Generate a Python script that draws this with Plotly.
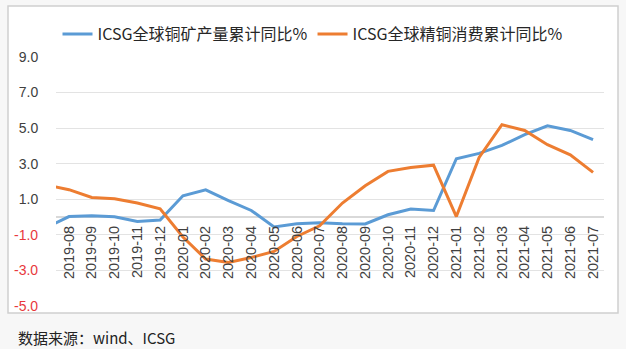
import plotly.graph_objects as go

# Monthly categories; 2019-07 sits just left of the visible window
months = ["2019-07", "2019-08", "2019-09", "2019-10", "2019-11", "2019-12",
          "2020-01", "2020-02", "2020-03", "2020-04", "2020-05", "2020-06",
          "2020-07", "2020-08", "2020-09", "2020-10", "2020-11", "2020-12",
          "2021-01", "2021-02", "2021-03", "2021-04", "2021-05", "2021-06",
          "2021-07"]

# ICSG global copper mine output, cumulative YoY (%)
mine_output = [-0.6, 0.03, 0.07, 0.02, -0.25, -0.17,
               1.20, 1.53, 0.93, 0.37, -0.56, -0.38,
               -0.32, -0.38, -0.39, 0.13, 0.45, 0.37,
               3.28, 3.58, 4.03, 4.63, 5.13, 4.87,
               4.35]

# ICSG global refined copper consumption, cumulative YoY (%)
refined_use = [1.8, 1.54, 1.10, 1.03, 0.79, 0.47,
               -1.12, -2.36, -2.55, -2.27, -1.93, -1.09,
               -0.49, 0.79, 1.76, 2.57, 2.79, 2.92,
               0.03, 3.35, 5.19, 4.87, 4.07, 3.50,
               2.51]

y_ticks = [9, 7, 5, 3, 1, -1, -3, -5]
y_min, y_max = -5, 9

BLUE = "#5B9BD5"
ORANGE = "#ED7D31"
LABEL = "#404040"
NEG = "#E8383D"

fig = go.Figure()
fig.add_trace(go.Scatter(
    x=list(range(len(months))), y=mine_output, mode="lines",
    name="ICSG全球铜矿产量累计同比%",
    line=dict(color=BLUE, width=3),
))
fig.add_trace(go.Scatter(
    x=list(range(len(months))), y=refined_use, mode="lines",
    name="ICSG全球精铜消费累计同比%",
    line=dict(color=ORANGE, width=3),
))

# Margins in pixels; used to place the frame and footnote in paper units
W, H = 626, 349
L, R, T, B = 56, 22, 57, 43
pw, ph = W - L - R, H - T - B


def px_x(x):
    return (x - L) / pw


def px_y(y):
    return (H - B - y) / ph


fig.add_shape(
    type="rect", xref="paper", yref="paper",
    x0=px_x(8), x1=px_x(618), y0=px_y(313), y1=px_y(6),
    line=dict(color="#d0d0d0", width=1.5), fillcolor="white", layer="below",
)

# Negative y tick labels are shown in red, placed on the y scale
for v in y_ticks:
    if v < 0:
        fig.add_annotation(
            xref="paper", yref="y", x=px_x(40), y=v,
            xanchor="right", yanchor="middle", showarrow=False,
            text=f"{v:.1f}",
            font=dict(family="Liberation Sans", size=14, color=NEG),
        )

fig.add_annotation(
    xref="paper", yref="paper", x=px_x(16), y=px_y(337),
    xanchor="left", yanchor="middle", showarrow=False,
    text="数据来源：wind、ICSG",
    font=dict(family="Noto Sans CJK SC", size=15, color="#222222"),
)

fig.update_layout(
    width=W, height=H,
    margin=dict(l=L, r=R, t=T, b=B),
    paper_bgcolor="#f7f7f7",
    plot_bgcolor="white",
    showlegend=True,
    legend=dict(
        orientation="h", x=px_x(313), xanchor="center",
        y=px_y(34), yanchor="middle",
        bgcolor="rgba(0,0,0,0)",
        font=dict(family="Noto Sans CJK SC", size=16, color="#262626"),
        itemwidth=30, tracegroupgap=0,
    ),
    xaxis=dict(
        range=[0.43, 24.48],
        tickmode="array",
        tickvals=list(range(1, len(months))),
        ticktext=months[1:],
        tickangle=-90,
        tickfont=dict(family="Liberation Sans", size=14.5, color=LABEL),
        showgrid=False,
        showline=False,
        zeroline=False,
        anchor="free",
        position=(0 - y_min) / (y_max - y_min),
        ticks="outside", ticklen=2, tickcolor="rgba(0,0,0,0)",
    ),
    yaxis=dict(
        range=[y_min, y_max],
        tickmode="array",
        tickvals=y_ticks,
        ticktext=[f"{v:.1f}" if v >= 0 else "" for v in y_ticks],
        tickfont=dict(family="Liberation Sans", size=14, color=LABEL),
        showgrid=True, gridcolor="#e3e3e3", gridwidth=1,
        zeroline=True, zerolinecolor="#d9d9d9", zerolinewidth=1.5,
        showline=False,
        ticks="outside", ticklen=14, tickcolor="rgba(0,0,0,0)",
    ),
)

fig.write_html("out.html")
